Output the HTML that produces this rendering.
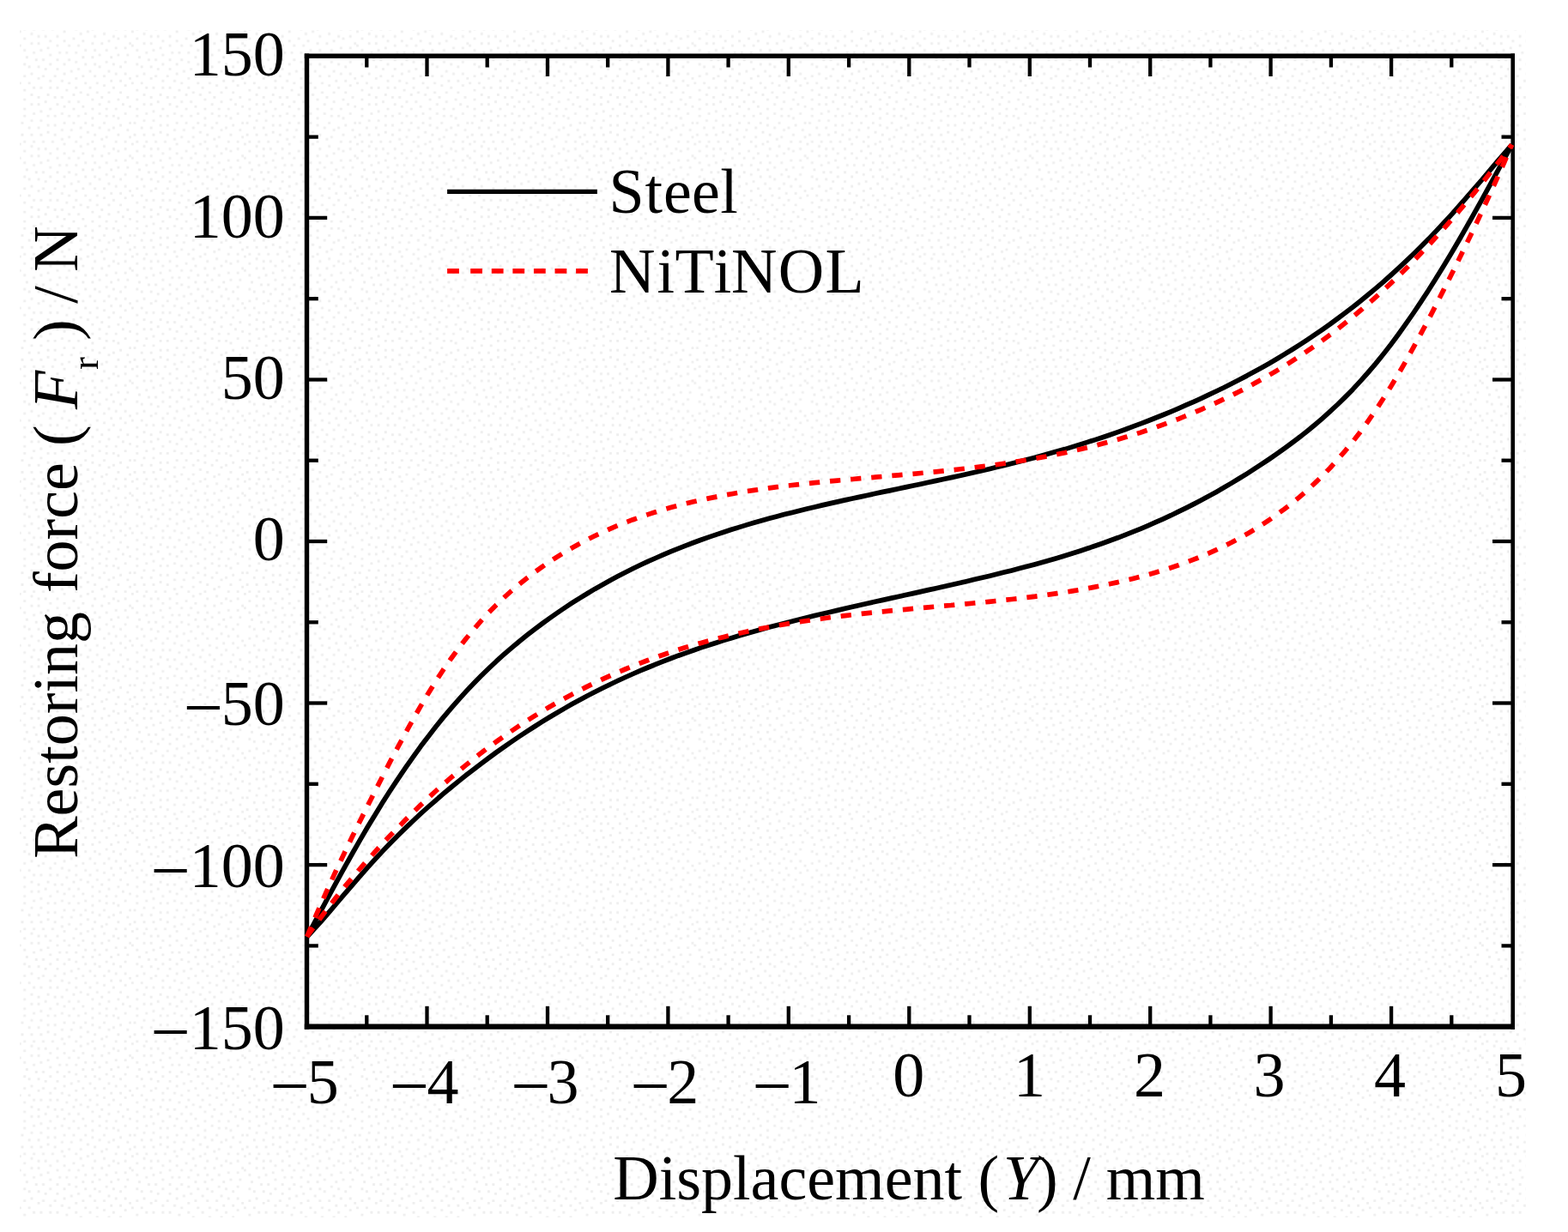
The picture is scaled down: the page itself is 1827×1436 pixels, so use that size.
<!DOCTYPE html>
<html lang="en">
<head>
<meta charset="utf-8">
<title>Restoring force vs displacement</title>
<style>
html,body{margin:0;padding:0;background:#fff;}
body{width:1827px;height:1436px;overflow:hidden;}
svg{display:block;}
text{font-family:"Liberation Serif", serif;font-size:74px;fill:#000;white-space:pre;}
.it{font-style:italic;}
.mn{font-size:82px;}
</style>
</head>
<body>
<svg width="1827" height="1436" viewBox="0 0 1827 1436">
<defs>
<pattern id="dots" x="21.85" y="35.5" width="131.088" height="131.088" patternUnits="userSpaceOnUse">
<path d="M-0.1 -0.1h2.93v2.93h-2.93zM51.8 -0.1h2.93v2.93h-2.93zM79.1 -0.1h2.93v2.93h-2.93zM13.6 2.6h2.93v2.93h-2.93zM70.9 2.6h2.93v2.93h-2.93zM98.2 2.6h2.93v2.93h-2.93zM21.7 5.4h2.93v2.93h-2.93zM29.9 5.4h2.93v2.93h-2.93zM43.6 5.4h2.93v2.93h-2.93zM87.3 5.4h2.93v2.93h-2.93zM109.1 5.4h2.93v2.93h-2.93zM122.8 5.4h2.93v2.93h-2.93zM5.4 8.1h2.93v2.93h-2.93zM62.7 8.1h2.93v2.93h-2.93zM114.6 8.1h2.93v2.93h-2.93zM35.4 10.8h2.93v2.93h-2.93zM51.8 10.8h2.93v2.93h-2.93zM73.6 10.8h2.93v2.93h-2.93zM103.7 10.8h2.93v2.93h-2.93zM13.6 13.6h2.93v2.93h-2.93zM21.7 13.6h2.93v2.93h-2.93zM84.6 13.6h2.93v2.93h-2.93zM95.5 13.6h2.93v2.93h-2.93zM128.3 13.6h2.93v2.93h-2.93zM-0.1 16.3h2.93v2.93h-2.93zM43.6 16.3h2.93v2.93h-2.93zM57.3 16.3h2.93v2.93h-2.93zM68.2 16.3h2.93v2.93h-2.93zM32.7 19.0h2.93v2.93h-2.93zM111.9 19.0h2.93v2.93h-2.93zM122.8 19.0h2.93v2.93h-2.93zM5.4 21.7h2.93v2.93h-2.93zM24.5 21.7h2.93v2.93h-2.93zM76.4 21.7h2.93v2.93h-2.93zM87.3 21.7h2.93v2.93h-2.93zM100.9 21.7h2.93v2.93h-2.93zM16.3 24.5h2.93v2.93h-2.93zM46.3 24.5h2.93v2.93h-2.93zM54.5 24.5h2.93v2.93h-2.93zM65.4 24.5h2.93v2.93h-2.93zM35.4 27.2h2.93v2.93h-2.93zM92.8 27.2h2.93v2.93h-2.93zM114.6 27.2h2.93v2.93h-2.93zM125.5 27.2h2.93v2.93h-2.93zM8.1 29.9h2.93v2.93h-2.93zM73.6 29.9h2.93v2.93h-2.93zM84.6 29.9h2.93v2.93h-2.93zM106.4 29.9h2.93v2.93h-2.93zM19.0 32.7h2.93v2.93h-2.93zM27.2 32.7h2.93v2.93h-2.93zM43.6 32.7h2.93v2.93h-2.93zM57.3 32.7h2.93v2.93h-2.93zM65.4 35.4h2.93v2.93h-2.93zM100.9 35.4h2.93v2.93h-2.93zM122.8 35.4h2.93v2.93h-2.93zM5.4 38.1h2.93v2.93h-2.93zM35.4 38.1h2.93v2.93h-2.93zM51.8 38.1h2.93v2.93h-2.93zM76.4 38.1h2.93v2.93h-2.93zM87.3 38.1h2.93v2.93h-2.93zM109.1 38.1h2.93v2.93h-2.93zM10.8 40.9h2.93v2.93h-2.93zM21.7 40.9h2.93v2.93h-2.93zM92.8 40.9h2.93v2.93h-2.93zM117.3 40.9h2.93v2.93h-2.93zM29.9 43.6h2.93v2.93h-2.93zM43.6 43.6h2.93v2.93h-2.93zM68.2 43.6h2.93v2.93h-2.93zM60.0 46.3h2.93v2.93h-2.93zM81.8 46.3h2.93v2.93h-2.93zM103.7 46.3h2.93v2.93h-2.93zM13.6 49.1h2.93v2.93h-2.93zM51.8 49.1h2.93v2.93h-2.93zM111.9 49.1h2.93v2.93h-2.93zM122.8 49.1h2.93v2.93h-2.93zM5.4 51.8h2.93v2.93h-2.93zM27.2 51.8h2.93v2.93h-2.93zM40.9 51.8h2.93v2.93h-2.93zM73.6 51.8h2.93v2.93h-2.93zM87.3 51.8h2.93v2.93h-2.93zM98.2 51.8h2.93v2.93h-2.93zM21.7 54.5h2.93v2.93h-2.93zM65.4 54.5h2.93v2.93h-2.93zM128.3 54.5h2.93v2.93h-2.93zM35.4 57.3h2.93v2.93h-2.93zM49.1 57.3h2.93v2.93h-2.93zM106.4 57.3h2.93v2.93h-2.93zM117.3 57.3h2.93v2.93h-2.93zM-0.1 60.0h2.93v2.93h-2.93zM10.8 60.0h2.93v2.93h-2.93zM57.3 60.0h2.93v2.93h-2.93zM76.4 60.0h2.93v2.93h-2.93zM90.0 60.0h2.93v2.93h-2.93zM98.2 62.7h2.93v2.93h-2.93zM122.8 62.7h2.93v2.93h-2.93zM16.3 65.4h2.93v2.93h-2.93zM24.5 65.4h2.93v2.93h-2.93zM35.4 65.4h2.93v2.93h-2.93zM43.6 65.4h2.93v2.93h-2.93zM65.4 65.4h2.93v2.93h-2.93zM81.8 65.4h2.93v2.93h-2.93zM109.1 65.4h2.93v2.93h-2.93zM5.4 68.2h2.93v2.93h-2.93zM54.5 68.2h2.93v2.93h-2.93zM70.9 70.9h2.93v2.93h-2.93zM90.0 70.9h2.93v2.93h-2.93zM103.7 70.9h2.93v2.93h-2.93zM117.3 70.9h2.93v2.93h-2.93zM13.6 73.6h2.93v2.93h-2.93zM32.7 73.6h2.93v2.93h-2.93zM62.7 73.6h2.93v2.93h-2.93zM79.1 73.6h2.93v2.93h-2.93zM21.7 76.4h2.93v2.93h-2.93zM40.9 76.4h2.93v2.93h-2.93zM49.1 76.4h2.93v2.93h-2.93zM95.5 76.4h2.93v2.93h-2.93zM125.5 76.4h2.93v2.93h-2.93zM5.4 79.1h2.93v2.93h-2.93zM84.6 79.1h2.93v2.93h-2.93zM114.6 79.1h2.93v2.93h-2.93zM29.9 81.8h2.93v2.93h-2.93zM57.3 81.8h2.93v2.93h-2.93zM68.2 81.8h2.93v2.93h-2.93zM103.7 81.8h2.93v2.93h-2.93zM13.6 84.6h2.93v2.93h-2.93zM21.7 84.6h2.93v2.93h-2.93zM43.6 84.6h2.93v2.93h-2.93zM92.8 84.6h2.93v2.93h-2.93zM120.1 84.6h2.93v2.93h-2.93zM51.8 87.3h2.93v2.93h-2.93zM73.6 87.3h2.93v2.93h-2.93zM128.3 87.3h2.93v2.93h-2.93zM5.4 90.0h2.93v2.93h-2.93zM35.4 90.0h2.93v2.93h-2.93zM62.7 90.0h2.93v2.93h-2.93zM84.6 90.0h2.93v2.93h-2.93zM100.9 90.0h2.93v2.93h-2.93zM111.9 90.0h2.93v2.93h-2.93zM24.5 92.8h2.93v2.93h-2.93zM16.3 95.5h2.93v2.93h-2.93zM49.1 95.5h2.93v2.93h-2.93zM76.4 95.5h2.93v2.93h-2.93zM92.8 95.5h2.93v2.93h-2.93zM122.8 95.5h2.93v2.93h-2.93zM5.4 98.2h2.93v2.93h-2.93zM32.7 98.2h2.93v2.93h-2.93zM40.9 98.2h2.93v2.93h-2.93zM57.3 98.2h2.93v2.93h-2.93zM68.2 98.2h2.93v2.93h-2.93zM100.9 98.2h2.93v2.93h-2.93zM109.1 98.2h2.93v2.93h-2.93zM84.6 100.9h2.93v2.93h-2.93zM114.6 100.9h2.93v2.93h-2.93zM13.6 103.7h2.93v2.93h-2.93zM24.5 103.7h2.93v2.93h-2.93zM2.6 106.4h2.93v2.93h-2.93zM51.8 106.4h2.93v2.93h-2.93zM62.7 106.4h2.93v2.93h-2.93zM76.4 106.4h2.93v2.93h-2.93zM98.2 106.4h2.93v2.93h-2.93zM128.3 106.4h2.93v2.93h-2.93zM32.7 109.1h2.93v2.93h-2.93zM40.9 109.1h2.93v2.93h-2.93zM84.6 109.1h2.93v2.93h-2.93zM117.3 109.1h2.93v2.93h-2.93zM10.8 111.9h2.93v2.93h-2.93zM21.7 111.9h2.93v2.93h-2.93zM70.9 111.9h2.93v2.93h-2.93zM92.8 111.9h2.93v2.93h-2.93zM109.1 111.9h2.93v2.93h-2.93zM49.1 114.6h2.93v2.93h-2.93zM60.0 114.6h2.93v2.93h-2.93zM103.7 114.6h2.93v2.93h-2.93zM125.5 114.6h2.93v2.93h-2.93zM32.7 117.3h2.93v2.93h-2.93zM79.1 117.3h2.93v2.93h-2.93zM2.6 120.1h2.93v2.93h-2.93zM13.6 120.1h2.93v2.93h-2.93zM24.5 120.1h2.93v2.93h-2.93zM40.9 120.1h2.93v2.93h-2.93zM87.3 120.1h2.93v2.93h-2.93zM114.6 120.1h2.93v2.93h-2.93zM57.3 122.8h2.93v2.93h-2.93zM70.9 122.8h2.93v2.93h-2.93zM100.9 122.8h2.93v2.93h-2.93zM128.3 122.8h2.93v2.93h-2.93zM49.1 125.5h2.93v2.93h-2.93zM95.5 125.5h2.93v2.93h-2.93zM5.4 128.3h2.93v2.93h-2.93zM16.3 128.3h2.93v2.93h-2.93zM27.2 128.3h2.93v2.93h-2.93zM38.1 128.3h2.93v2.93h-2.93zM65.4 128.3h2.93v2.93h-2.93zM84.6 128.3h2.93v2.93h-2.93zM111.9 128.3h2.93v2.93h-2.93zM122.8 128.3h2.93v2.93h-2.93z" fill="#eeeeee"/>
</pattern>
</defs>
<rect x="0" y="0" width="1827" height="1436" fill="#ffffff"/>
<rect x="23" y="35" width="1755" height="1384" fill="url(#dots)"/>
<g stroke="#000" stroke-linecap="butt">
<line x1="357.5" y1="62.4" x2="357.5" y2="1199.7" stroke-width="5.4"/>
<line x1="1762.7" y1="62.4" x2="1762.7" y2="1199.7" stroke-width="4.6"/>
<line x1="354.8" y1="65.2" x2="1765.0" y2="65.2" stroke-width="5.6"/>
<line x1="354.8" y1="1196.6" x2="1765.0" y2="1196.6" stroke-width="6.2"/>
</g>
<g stroke="#000" stroke-width="4.3">
<line x1="427.3" y1="1196.6" x2="427.3" y2="1183.3"/><line x1="427.3" y1="65.2" x2="427.3" y2="78.5"/>
<line x1="497.5" y1="1196.6" x2="497.5" y2="1172.8"/><line x1="497.5" y1="65.2" x2="497.5" y2="89.0"/>
<line x1="567.7" y1="1196.6" x2="567.7" y2="1183.3"/><line x1="567.7" y1="65.2" x2="567.7" y2="78.5"/>
<line x1="638.0" y1="1196.6" x2="638.0" y2="1172.8"/><line x1="638.0" y1="65.2" x2="638.0" y2="89.0"/>
<line x1="708.2" y1="1196.6" x2="708.2" y2="1183.3"/><line x1="708.2" y1="65.2" x2="708.2" y2="78.5"/>
<line x1="778.4" y1="1196.6" x2="778.4" y2="1172.8"/><line x1="778.4" y1="65.2" x2="778.4" y2="89.0"/>
<line x1="848.6" y1="1196.6" x2="848.6" y2="1183.3"/><line x1="848.6" y1="65.2" x2="848.6" y2="78.5"/>
<line x1="918.8" y1="1196.6" x2="918.8" y2="1172.8"/><line x1="918.8" y1="65.2" x2="918.8" y2="89.0"/>
<line x1="989.1" y1="1196.6" x2="989.1" y2="1183.3"/><line x1="989.1" y1="65.2" x2="989.1" y2="78.5"/>
<line x1="1059.3" y1="1196.6" x2="1059.3" y2="1172.8"/><line x1="1059.3" y1="65.2" x2="1059.3" y2="89.0"/>
<line x1="1129.5" y1="1196.6" x2="1129.5" y2="1183.3"/><line x1="1129.5" y1="65.2" x2="1129.5" y2="78.5"/>
<line x1="1199.8" y1="1196.6" x2="1199.8" y2="1172.8"/><line x1="1199.8" y1="65.2" x2="1199.8" y2="89.0"/>
<line x1="1270.0" y1="1196.6" x2="1270.0" y2="1183.3"/><line x1="1270.0" y1="65.2" x2="1270.0" y2="78.5"/>
<line x1="1340.2" y1="1196.6" x2="1340.2" y2="1172.8"/><line x1="1340.2" y1="65.2" x2="1340.2" y2="89.0"/>
<line x1="1410.4" y1="1196.6" x2="1410.4" y2="1183.3"/><line x1="1410.4" y1="65.2" x2="1410.4" y2="78.5"/>
<line x1="1480.6" y1="1196.6" x2="1480.6" y2="1172.8"/><line x1="1480.6" y1="65.2" x2="1480.6" y2="89.0"/>
<line x1="1550.9" y1="1196.6" x2="1550.9" y2="1183.3"/><line x1="1550.9" y1="65.2" x2="1550.9" y2="78.5"/>
<line x1="1621.1" y1="1196.6" x2="1621.1" y2="1172.8"/><line x1="1621.1" y1="65.2" x2="1621.1" y2="89.0"/>
<line x1="1691.3" y1="1196.6" x2="1691.3" y2="1183.3"/><line x1="1691.3" y1="65.2" x2="1691.3" y2="78.5"/>
<line x1="357.5" y1="1102.4" x2="370.8" y2="1102.4"/><line x1="1762.7" y1="1102.4" x2="1749.5" y2="1102.4"/>
<line x1="357.5" y1="1008.1" x2="381.2" y2="1008.1"/><line x1="1762.7" y1="1008.1" x2="1739.0" y2="1008.1"/>
<line x1="357.5" y1="913.8" x2="370.8" y2="913.8"/><line x1="1762.7" y1="913.8" x2="1749.5" y2="913.8"/>
<line x1="357.5" y1="819.5" x2="381.2" y2="819.5"/><line x1="1762.7" y1="819.5" x2="1739.0" y2="819.5"/>
<line x1="357.5" y1="725.3" x2="370.8" y2="725.3"/><line x1="1762.7" y1="725.3" x2="1749.5" y2="725.3"/>
<line x1="357.5" y1="631.0" x2="381.2" y2="631.0"/><line x1="1762.7" y1="631.0" x2="1739.0" y2="631.0"/>
<line x1="357.5" y1="536.7" x2="370.8" y2="536.7"/><line x1="1762.7" y1="536.7" x2="1749.5" y2="536.7"/>
<line x1="357.5" y1="442.5" x2="381.2" y2="442.5"/><line x1="1762.7" y1="442.5" x2="1739.0" y2="442.5"/>
<line x1="357.5" y1="348.2" x2="370.8" y2="348.2"/><line x1="1762.7" y1="348.2" x2="1749.5" y2="348.2"/>
<line x1="357.5" y1="253.9" x2="381.2" y2="253.9"/><line x1="1762.7" y1="253.9" x2="1739.0" y2="253.9"/>
<line x1="357.5" y1="159.6" x2="370.8" y2="159.6"/><line x1="1762.7" y1="159.6" x2="1749.5" y2="159.6"/>
</g>
<g fill="none" stroke-linejoin="round">
<path d="M357.7,1092.0 L366.5,1075.4 L375.4,1058.9 L384.2,1042.5 L393.0,1026.3 L401.8,1010.3 L410.7,994.5 L419.5,979.1 L428.3,964.0 L437.2,949.4 L446.0,935.1 L454.8,921.3 L463.7,907.9 L472.5,894.9 L481.3,882.3 L490.1,870.1 L499.0,858.4 L507.8,847.0 L516.6,836.1 L525.5,825.6 L534.3,815.6 L543.1,805.9 L552.0,796.5 L560.8,787.6 L569.6,779.0 L578.4,770.7 L587.3,762.7 L596.1,755.1 L604.9,747.7 L613.8,740.6 L622.6,733.7 L631.4,727.1 L640.2,720.7 L649.1,714.5 L657.9,708.5 L666.7,702.7 L675.6,697.1 L684.4,691.7 L693.2,686.4 L702.1,681.4 L710.9,676.5 L719.7,671.8 L728.5,667.2 L737.4,662.8 L746.2,658.5 L755.0,654.4 L763.9,650.5 L772.7,646.6 L781.5,642.9 L790.3,639.3 L799.2,635.9 L808.0,632.5 L816.8,629.3 L825.7,626.1 L834.5,623.1 L843.3,620.2 L852.2,617.3 L861.0,614.6 L869.8,611.9 L878.6,609.3 L887.5,606.8 L896.3,604.3 L905.1,602.0 L914.0,599.6 L922.8,597.4 L931.6,595.2 L940.5,593.0 L949.3,590.9 L958.1,588.9 L966.9,586.9 L975.8,584.9 L984.6,582.9 L993.4,581.0 L1002.3,579.1 L1011.1,577.2 L1019.9,575.3 L1028.7,573.4 L1037.6,571.6 L1046.4,569.7 L1055.2,567.9 L1064.1,566.0 L1072.9,564.2 L1081.7,562.3 L1090.6,560.4 L1099.4,558.5 L1108.2,556.6 L1117.0,554.7 L1125.9,552.7 L1134.7,550.8 L1143.5,548.7 L1152.4,546.7 L1161.2,544.6 L1170.0,542.5 L1178.8,540.3 L1187.7,538.1 L1196.5,535.8 L1205.3,533.5 L1214.2,531.1 L1223.0,528.6 L1231.8,526.1 L1240.7,523.6 L1249.5,520.9 L1258.3,518.2 L1267.1,515.4 L1276.0,512.6 L1284.8,509.7 L1293.6,506.7 L1302.5,503.6 L1311.3,500.5 L1320.1,497.2 L1329.0,493.9 L1337.8,490.5 L1346.6,487.0 L1355.4,483.5 L1364.3,479.8 L1373.1,476.1 L1381.9,472.2 L1390.8,468.3 L1399.6,464.3 L1408.4,460.2 L1417.2,456.0 L1426.1,451.7 L1434.9,447.2 L1443.7,442.7 L1452.6,438.1 L1461.4,433.3 L1470.2,428.4 L1479.1,423.4 L1487.9,418.2 L1496.7,412.9 L1505.5,407.5 L1514.4,401.9 L1523.2,396.1 L1532.0,390.2 L1540.9,384.1 L1549.7,377.9 L1558.5,371.4 L1567.3,364.8 L1576.2,358.0 L1585.0,351.0 L1593.8,343.8 L1602.7,336.4 L1611.5,328.8 L1620.3,321.0 L1629.2,312.9 L1638.0,304.7 L1646.8,296.2 L1655.6,287.5 L1664.5,278.6 L1673.3,269.4 L1682.1,260.0 L1691.0,250.4 L1699.8,240.5 L1708.6,230.4 L1717.5,220.2 L1726.3,210.0 L1735.1,199.6 L1743.9,189.2 L1752.8,178.9 L1761.6,168.6" stroke="#000000" stroke-width="5.7"/>
<path d="M357.7,1092.0 L366.5,1082.4 L375.4,1072.5 L384.2,1062.3 L393.0,1052.0 L401.8,1041.7 L410.7,1031.4 L419.5,1021.2 L428.3,1011.2 L437.2,1001.4 L446.0,991.9 L454.8,982.7 L463.7,973.8 L472.5,965.1 L481.3,956.7 L490.1,948.5 L499.0,940.5 L507.8,932.8 L516.6,925.2 L525.5,917.8 L534.3,910.6 L543.1,903.6 L552.0,896.7 L560.8,889.9 L569.6,883.4 L578.4,876.9 L587.3,870.6 L596.1,864.5 L604.9,858.5 L613.8,852.7 L622.6,847.0 L631.4,841.4 L640.2,836.0 L649.1,830.7 L657.9,825.6 L666.7,820.6 L675.6,815.8 L684.4,811.0 L693.2,806.5 L702.1,802.0 L710.9,797.7 L719.7,793.5 L728.5,789.5 L737.4,785.5 L746.2,781.7 L755.0,778.0 L763.9,774.4 L772.7,770.9 L781.5,767.5 L790.3,764.2 L799.2,761.1 L808.0,758.0 L816.8,754.9 L825.7,752.0 L834.5,749.2 L843.3,746.4 L852.2,743.7 L861.0,741.1 L869.8,738.5 L878.6,736.0 L887.5,733.5 L896.3,731.1 L905.1,728.8 L914.0,726.5 L922.8,724.2 L931.6,722.0 L940.5,719.8 L949.3,717.6 L958.1,715.5 L966.9,713.4 L975.8,711.4 L984.6,709.3 L993.4,707.3 L1002.3,705.3 L1011.1,703.3 L1019.9,701.3 L1028.7,699.4 L1037.6,697.4 L1046.4,695.5 L1055.2,693.5 L1064.1,691.6 L1072.9,689.6 L1081.7,687.6 L1090.6,685.7 L1099.4,683.7 L1108.2,681.7 L1117.0,679.7 L1125.9,677.7 L1134.7,675.6 L1143.5,673.5 L1152.4,671.4 L1161.2,669.3 L1170.0,667.1 L1178.8,664.9 L1187.7,662.6 L1196.5,660.3 L1205.3,657.9 L1214.2,655.4 L1223.0,652.9 L1231.8,650.4 L1240.7,647.7 L1249.5,645.0 L1258.3,642.2 L1267.1,639.3 L1276.0,636.3 L1284.8,633.2 L1293.6,630.0 L1302.5,626.8 L1311.3,623.4 L1320.1,619.9 L1329.0,616.3 L1337.8,612.6 L1346.6,608.7 L1355.4,604.8 L1364.3,600.7 L1373.1,596.4 L1381.9,592.1 L1390.8,587.6 L1399.6,583.0 L1408.4,578.2 L1417.2,573.4 L1426.1,568.3 L1434.9,563.1 L1443.7,557.8 L1452.6,552.3 L1461.4,546.7 L1470.2,540.9 L1479.1,535.0 L1487.9,528.9 L1496.7,522.6 L1505.5,516.1 L1514.4,509.4 L1523.2,502.4 L1532.0,495.2 L1540.9,487.6 L1549.7,479.7 L1558.5,471.5 L1567.3,462.9 L1576.2,453.9 L1585.0,444.4 L1593.8,434.5 L1602.7,424.1 L1611.5,413.2 L1620.3,401.9 L1629.2,390.0 L1638.0,377.7 L1646.8,365.0 L1655.6,351.8 L1664.5,338.3 L1673.3,324.3 L1682.1,310.0 L1691.0,295.3 L1699.8,280.2 L1708.6,264.8 L1717.5,249.2 L1726.3,233.4 L1735.1,217.4 L1743.9,201.3 L1752.8,185.0 L1761.6,168.8" stroke="#000000" stroke-width="5.7"/>
<path d="M357.7,1091.9 L366.5,1070.8 L375.4,1050.5 L384.2,1030.8 L393.0,1011.7 L401.8,993.1 L410.7,974.8 L419.5,956.9 L428.3,939.3 L437.2,921.8 L446.0,904.4 L454.8,887.4 L463.7,870.7 L472.5,854.4 L481.3,838.5 L490.1,823.1 L499.0,808.2 L507.8,794.0 L516.6,780.5 L525.5,767.7 L534.3,755.7 L543.1,744.3 L552.0,733.6 L560.8,723.4 L569.6,713.9 L578.4,704.9 L587.3,696.5 L596.1,688.5 L604.9,681.0 L613.8,673.9 L622.6,667.2 L631.4,660.9 L640.2,654.8 L649.1,649.1 L657.9,643.7 L666.7,638.5 L675.6,633.6 L684.4,628.9 L693.2,624.5 L702.1,620.3 L710.9,616.3 L719.7,612.6 L728.5,609.1 L737.4,605.7 L746.2,602.6 L755.0,599.6 L763.9,596.8 L772.7,594.1 L781.5,591.6 L790.3,589.2 L799.2,587.0 L808.0,584.8 L816.8,582.8 L825.7,580.9 L834.5,579.1 L843.3,577.3 L852.2,575.7 L861.0,574.2 L869.8,572.7 L878.6,571.4 L887.5,570.1 L896.3,568.8 L905.1,567.7 L914.0,566.6 L922.8,565.5 L931.6,564.5 L940.5,563.6 L949.3,562.6 L958.1,561.8 L966.9,560.9 L975.8,560.1 L984.6,559.3 L993.4,558.5 L1002.3,557.7 L1011.1,557.0 L1019.9,556.2 L1028.7,555.4 L1037.6,554.6 L1046.4,553.9 L1055.2,553.1 L1064.1,552.3 L1072.9,551.5 L1081.7,550.6 L1090.6,549.8 L1099.4,548.9 L1108.2,547.9 L1117.0,547.0 L1125.9,546.0 L1134.7,544.9 L1143.5,543.8 L1152.4,542.7 L1161.2,541.5 L1170.0,540.2 L1178.8,538.9 L1187.7,537.5 L1196.5,536.1 L1205.3,534.5 L1214.2,532.9 L1223.0,531.3 L1231.8,529.5 L1240.7,527.7 L1249.5,525.7 L1258.3,523.7 L1267.1,521.6 L1276.0,519.4 L1284.8,517.1 L1293.6,514.7 L1302.5,512.2 L1311.3,509.6 L1320.1,506.9 L1329.0,504.1 L1337.8,501.1 L1346.6,498.1 L1355.4,494.9 L1364.3,491.6 L1373.1,488.3 L1381.9,484.7 L1390.8,481.1 L1399.6,477.3 L1408.4,473.4 L1417.2,469.4 L1426.1,465.2 L1434.9,460.9 L1443.7,456.5 L1452.6,451.9 L1461.4,447.1 L1470.2,442.2 L1479.1,437.1 L1487.9,431.9 L1496.7,426.5 L1505.5,420.9 L1514.4,415.2 L1523.2,409.2 L1532.0,403.1 L1540.9,396.8 L1549.7,390.2 L1558.5,383.5 L1567.3,376.6 L1576.2,369.4 L1585.0,362.0 L1593.8,354.4 L1602.7,346.6 L1611.5,338.6 L1620.3,330.4 L1629.2,321.9 L1638.0,313.2 L1646.8,304.3 L1655.6,295.2 L1664.5,285.9 L1673.3,276.3 L1682.1,266.5 L1691.0,256.5 L1699.8,246.2 L1708.6,235.8 L1717.5,225.1 L1726.3,214.2 L1735.1,203.1 L1743.9,191.8 L1752.8,180.3 L1761.6,168.6" stroke="#ff0000" stroke-width="5.7" stroke-dasharray="12.3 11.9"/>
<path d="M357.7,1091.6 L366.5,1079.2 L375.4,1067.2 L384.2,1055.6 L393.0,1044.3 L401.8,1033.4 L410.7,1022.8 L419.5,1012.5 L428.3,1002.5 L437.2,992.7 L446.0,983.1 L454.8,973.7 L463.7,964.6 L472.5,955.6 L481.3,946.9 L490.1,938.4 L499.0,930.1 L507.8,922.0 L516.6,914.1 L525.5,906.4 L534.3,898.9 L543.1,891.6 L552.0,884.5 L560.8,877.6 L569.6,870.9 L578.4,864.4 L587.3,858.1 L596.1,852.0 L604.9,846.0 L613.8,840.3 L622.6,834.7 L631.4,829.2 L640.2,824.0 L649.1,818.9 L657.9,814.0 L666.7,809.2 L675.6,804.6 L684.4,800.1 L693.2,795.8 L702.1,791.6 L710.9,787.6 L719.7,783.7 L728.5,780.0 L737.4,776.3 L746.2,772.9 L755.0,769.5 L763.9,766.3 L772.7,763.2 L781.5,760.2 L790.3,757.3 L799.2,754.5 L808.0,751.9 L816.8,749.4 L825.7,746.9 L834.5,744.6 L843.3,742.4 L852.2,740.2 L861.0,738.2 L869.8,736.2 L878.6,734.3 L887.5,732.6 L896.3,730.9 L905.1,729.2 L914.0,727.7 L922.8,726.2 L931.6,724.8 L940.5,723.5 L949.3,722.2 L958.1,721.0 L966.9,719.8 L975.8,718.7 L984.6,717.6 L993.4,716.6 L1002.3,715.6 L1011.1,714.6 L1019.9,713.7 L1028.7,712.8 L1037.6,711.9 L1046.4,711.1 L1055.2,710.3 L1064.1,709.4 L1072.9,708.6 L1081.7,707.8 L1090.6,707.0 L1099.4,706.2 L1108.2,705.5 L1117.0,704.6 L1125.9,703.8 L1134.7,703.0 L1143.5,702.2 L1152.4,701.3 L1161.2,700.4 L1170.0,699.4 L1178.8,698.5 L1187.7,697.5 L1196.5,696.4 L1205.3,695.3 L1214.2,694.1 L1223.0,692.9 L1231.8,691.6 L1240.7,690.3 L1249.5,688.9 L1258.3,687.4 L1267.1,685.8 L1276.0,684.1 L1284.8,682.4 L1293.6,680.5 L1302.5,678.6 L1311.3,676.5 L1320.1,674.4 L1329.0,672.1 L1337.8,669.7 L1346.6,667.2 L1355.4,664.6 L1364.3,661.7 L1373.1,658.8 L1381.9,655.6 L1390.8,652.2 L1399.6,648.7 L1408.4,644.9 L1417.2,640.9 L1426.1,636.7 L1434.9,632.3 L1443.7,627.5 L1452.6,622.6 L1461.4,617.3 L1470.2,611.7 L1479.1,605.9 L1487.9,599.7 L1496.7,593.2 L1505.5,586.3 L1514.4,579.1 L1523.2,571.4 L1532.0,563.2 L1540.9,554.6 L1549.7,545.5 L1558.5,535.8 L1567.3,525.6 L1576.2,514.8 L1585.0,503.4 L1593.8,491.3 L1602.7,478.5 L1611.5,465.0 L1620.3,450.9 L1629.2,436.2 L1638.0,421.0 L1646.8,405.2 L1655.6,388.9 L1664.5,372.3 L1673.3,355.3 L1682.1,337.9 L1691.0,320.3 L1699.8,302.5 L1708.6,284.4 L1717.5,266.0 L1726.3,247.3 L1735.1,228.3 L1743.9,208.8 L1752.8,189.0 L1761.6,168.7" stroke="#ff0000" stroke-width="5.7" stroke-dasharray="12.3 11.9"/>
</g>
<text x="331.8" y="87.5" text-anchor="end">150</text>
<text x="331.8" y="276.5" text-anchor="end">100</text>
<text x="331.8" y="465.0" text-anchor="end">50</text>
<text x="331.8" y="653.0" text-anchor="end">0</text>
<text><tspan class="mn" x="213.8" y="852.0">−</tspan><tspan x="331.8" y="844.5" text-anchor="end">50</tspan></text>
<text><tspan class="mn" x="175.5" y="1041.5">−</tspan><tspan x="331.8" y="1034.0" text-anchor="end">100</tspan></text>
<text><tspan class="mn" x="175.5" y="1230.3">−</tspan><tspan x="331.8" y="1222.8" text-anchor="end">150</tspan></text>
<text x="1058.8" y="1277.6" text-anchor="middle">0</text>
<text x="1199.5" y="1277.6" text-anchor="middle">1</text>
<text x="1339.6" y="1277.6" text-anchor="middle">2</text>
<text x="1479.0" y="1277.6" text-anchor="middle">3</text>
<text x="1619.5" y="1277.6" text-anchor="middle">4</text>
<text x="1760.6" y="1277.6" text-anchor="middle">5</text>
<text><tspan class="mn" x="314.5" y="1292.6">−</tspan><tspan x="357.7" y="1286.4">5</tspan></text>
<text><tspan class="mn" x="453.7" y="1292.6">−</tspan><tspan x="497.4" y="1286.4">4</tspan></text>
<text><tspan class="mn" x="595.2" y="1292.6">−</tspan><tspan x="637.5" y="1286.4">3</tspan></text>
<text><tspan class="mn" x="734.6" y="1292.6">−</tspan><tspan x="777.2" y="1286.4">2</tspan></text>
<text><tspan class="mn" x="876.4" y="1292.6">−</tspan><tspan x="919.5" y="1286.4">1</tspan></text>
<text y="1398"><tspan x="714.2">Displacement (</tspan><tspan class="it" x="1168.8">Y</tspan><tspan x="1208">)</tspan><tspan x="1231.7"> / </tspan><tspan x="1288.8">mm</tspan></text>
<text transform="translate(89.7 633.2) rotate(-90)" y="0"><tspan x="-367.6">Restoring</tspan><tspan x="-76.4"> force </tspan><tspan x="113.3">( </tspan><tspan class="it" x="156.2">F</tspan><tspan x="202.1" dy="24" font-size="45">r </tspan><tspan x="236.3" dy="-24">)</tspan><tspan x="260.9"> / </tspan><tspan x="316.5">N</tspan></text>
<line x1="521.1" y1="223.3" x2="695.9" y2="223.3" stroke="#000" stroke-width="5.3"/>
<line x1="521.1" y1="315.9" x2="534.9" y2="315.9" stroke="#ff0000" stroke-width="5.8"/>
<line x1="548.2" y1="315.9" x2="684.9" y2="315.9" stroke="#ff0000" stroke-width="5.8" stroke-dasharray="13.8 10.78"/>
<text x="709.6 751.6 773 806 839.2" y="247.7">Steel</text>
<text x="710 765.6 786.6 831.8 852 906.8 961.4" y="340.5">NiTiNOL</text>
</svg>
</body>
</html>
